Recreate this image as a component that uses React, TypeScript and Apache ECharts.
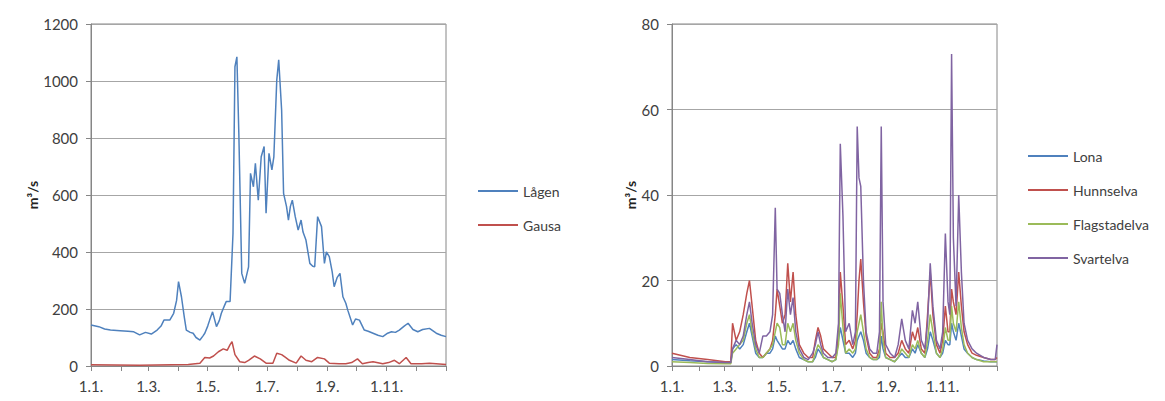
import React, { useEffect, useRef } from "react";
import * as echarts from "echarts";

// x = day of year (0 = 1 January)
const monthStarts = [0, 31, 59, 90, 120, 151, 181, 212, 243, 273, 304, 334, 365];
const labelDays = [0, 59, 120, 181, 243, 304];
const labelTexts = ["1.1.", "1.3.", "1.5.", "1.7.", "1.9.", "1.11."];

const lagenDays = [0, 8, 14, 20, 30, 38, 44, 50, 56, 62, 68, 72, 75, 81, 85, 88, 90, 93, 96, 98, 102, 105, 108, 112, 115, 117, 120, 122, 125, 129, 132, 134, 137, 139, 143, 146, 148, 150, 152, 155, 158, 162, 164, 167, 169, 172, 175, 178, 180, 183, 186, 188, 191, 193, 196, 198, 201, 203, 205, 207, 210, 213, 216, 218, 221, 225, 228, 230, 233, 237, 240, 242, 245, 248, 250, 253, 256, 259, 262, 264, 269, 272, 276, 281, 285, 290, 295, 300, 305, 309, 313, 317, 322, 326, 331, 336, 341, 348, 355, 360, 365];
const lagenValues = [144, 138, 130, 126, 124, 122, 120, 109, 118, 112, 126, 140, 161, 161, 185, 230, 296, 243, 170, 126, 118, 115, 100, 91, 105, 115, 140, 161, 190, 138, 160, 185, 210, 226, 226, 465, 1050, 1085, 816, 325, 290, 348, 676, 629, 711, 582, 734, 770, 536, 746, 688, 734, 1003, 1074, 898, 606, 560, 512, 560, 582, 524, 477, 512, 470, 442, 360, 350, 348, 524, 489, 360, 400, 384, 330, 278, 310, 325, 243, 220, 196, 144, 165, 161, 126, 122, 115, 108, 103, 115, 120, 118, 126, 140, 150, 128, 120, 128, 132, 115, 108, 103];

const gausaDays = [0, 50, 100, 112, 117, 122, 126, 131, 136, 140, 143, 145, 148, 153, 158, 162, 168, 174, 180, 187, 191, 196, 200, 204, 211, 216, 221, 227, 233, 240, 245, 255, 262, 268, 274, 279, 285, 290, 300, 306, 312, 317, 324, 329, 340, 348, 365];
const gausaValues = [4, 3, 5, 10, 30, 28, 35, 50, 60, 55, 75, 85, 40, 15, 12, 20, 35, 25, 10, 10, 45, 40, 30, 20, 10, 35, 20, 15, 30, 25, 10, 8, 8, 12, 25, 8, 12, 15, 8, 12, 20, 8, 30, 8, 8, 10, 5];

const rightDays = [0, 20, 40, 60, 66, 68, 72, 76, 80, 84, 87, 90, 94, 98, 102, 106, 110, 113, 116, 118, 121, 124, 127, 130, 133, 136, 139, 143, 148, 153, 158, 161, 164, 167, 170, 175, 180, 184, 187, 189, 192, 195, 199, 203, 206, 208, 210, 212, 215, 218, 222, 226, 230, 233, 235, 237, 240, 245, 250, 254, 258, 262, 266, 270, 273, 276, 280, 284, 287, 290, 293, 297, 301, 304, 307, 310, 312, 314, 316, 319, 322, 325, 328, 332, 337, 342, 350, 358, 363, 365];
const lonaValues = [1.5, 1.2, 1, 0.8, 0.8, 4, 5, 4, 5, 8, 10, 7, 3, 2, 2, 3, 3, 4, 7, 6, 5, 4, 4, 6, 5, 6, 4, 2, 1.5, 1, 1, 2, 4, 3, 2, 1.5, 1, 1.5, 6, 9, 6, 3, 3, 2, 3, 6, 7, 8, 6, 3, 2, 1.5, 1.5, 2, 7, 4, 2, 1.5, 1, 2, 3, 2, 2, 4, 3, 5, 3, 2, 4, 8, 6, 3, 2, 3, 6, 5, 5, 10, 8, 6, 10, 7, 4, 3, 2, 1.5, 1.2, 1, 1, 1];
const hunnselvaValues = [3, 2, 1.5, 1, 1, 10, 6, 8, 12, 17, 20, 14, 6, 3, 2, 3, 4, 6, 12, 18, 14, 10, 12, 24, 15, 22, 12, 5, 3, 2, 2, 6, 9, 7, 4, 3, 2, 2, 8, 22, 14, 5, 6, 4, 6, 12, 20, 25, 15, 7, 3, 2, 2, 4, 10, 8, 3, 2, 2, 3, 6, 4, 3, 8, 6, 9, 4, 3, 12, 22, 12, 5, 3, 6, 14, 8, 8, 18, 15, 12, 22, 14, 8, 5, 3, 2.5, 2, 1.5, 1.5, 2];
const flagstadelvaValues = [1, 0.8, 0.6, 0.5, 0.5, 3, 4, 5, 6, 10, 12, 8, 4, 2, 2, 3, 4, 5, 8, 10, 9, 5, 5, 10, 8, 10, 6, 3, 1.5, 1, 1, 3, 5, 4, 2, 1.5, 1, 1.5, 5, 17, 9, 3, 4, 3, 4, 8, 10, 12, 8, 4, 2, 1.5, 1.5, 3, 15, 6, 2, 1.5, 1, 2, 4, 3, 2, 5, 4, 6, 3, 2, 6, 12, 8, 3, 2, 4, 9, 6, 6, 14, 10, 8, 15, 9, 5, 3, 2, 1.5, 1, 1, 1, 1];
const svartelvaValues = [2, 1.5, 1, 0.8, 0.8, 4, 6, 5, 7, 12, 15, 10, 5, 3, 7, 7, 8, 12, 37, 18, 17, 12, 8, 18, 12, 16, 8, 4, 2, 1.5, 3, 5, 8, 5, 3, 2, 2, 3, 10, 52, 35, 8, 10, 5, 8, 56, 44, 42, 20, 8, 4, 3, 3, 8, 56, 15, 5, 3, 2, 5, 11, 6, 4, 13, 10, 15, 6, 4, 10, 24, 14, 6, 4, 8, 31, 15, 12, 73, 30, 14, 40, 22, 10, 6, 4, 3, 2, 1.5, 1.5, 5];

const zip = (xs: number[], ys: number[]) => xs.map((x, i) => [x, ys[i]]);

const FONT = "Lato";
const TXT = "#404040";

function xAxis(gridIndex: number) {
  return {
    type: "value",
    gridIndex,
    min: 0,
    max: 365,
    axisLine: { show: true, lineStyle: { color: "#868686", width: 1 } },
    axisTick: { show: true, customValues: monthStarts, length: 5, lineStyle: { color: "#868686" } },
    axisLabel: {
      show: true,
      customValues: labelDays,
      formatter: (v: number) => labelTexts[labelDays.indexOf(v)] ?? "",
      margin: 12,
      fontFamily: FONT,
      fontSize: 15,
      color: TXT,
    },
    splitLine: { show: false },
  };
}

function yAxis(gridIndex: number, max: number, interval: number, nameGap: number) {
  return {
    type: "value",
    gridIndex,
    min: 0,
    max,
    interval,
    name: "m³/s",
    nameLocation: "middle",
    nameGap,
    nameRotate: 90,
    nameTextStyle: { fontFamily: FONT, fontSize: 14, fontWeight: "bold", color: "#222" },
    axisLine: { show: true, lineStyle: { color: "#868686", width: 1 } },
    axisTick: { show: true, length: 5, lineStyle: { color: "#868686" } },
    axisLabel: { margin: 13, fontFamily: FONT, fontSize: 15, color: TXT, formatter: (v: number) => String(v) },
    splitLine: { show: true, lineStyle: { color: "#a6a6a6", width: 1 } },
  };
}

function lineSeries(name: string, data: number[][], color: string, idx: number) {
  return {
    name,
    type: "line",
    xAxisIndex: idx,
    yAxisIndex: idx,
    data,
    showSymbol: false,
    symbol: "none",
    lineStyle: { color, width: 1.5 },
    itemStyle: { color },
  };
}

export default function App() {
  const ref = useRef<HTMLDivElement>(null);
  useEffect(() => {
    if (!ref.current) return;
    const chart = echarts.init(ref.current, undefined, { renderer: "svg" });
    chart.setOption({
      animation: false,
      backgroundColor: "#ffffff",
      grid: [
        { left: 91, top: 24, width: 355, height: 342, show: true, borderColor: "#868686", borderWidth: 1 },
        { left: 672, top: 24, width: 325, height: 342, show: true, borderColor: "#868686", borderWidth: 1 },
      ],
      xAxis: [xAxis(0), xAxis(1)],
      yAxis: [yAxis(0, 1200, 200, 46), yAxis(1, 80, 20, 34)],
      legend: [
        {
          data: ["Lågen", "Gausa"],
          orient: "vertical",
          left: 473,
          top: 178,
          itemWidth: 40,
          itemHeight: 2,
          itemGap: 18,
          icon: "rect",
          textStyle: { fontFamily: FONT, fontSize: 14, color: TXT, lineHeight: 16 },
        },
        {
          data: ["Lona", "Hunnselva", "Flagstadelva", "Svartelva"],
          orient: "vertical",
          left: 1023,
          top: 143,
          itemWidth: 40,
          itemHeight: 2,
          itemGap: 18,
          icon: "rect",
          textStyle: { fontFamily: FONT, fontSize: 14, color: TXT, lineHeight: 16 },
        },
      ],
      series: [
        lineSeries("Lågen", zip(lagenDays, lagenValues), "#4F81BD", 0),
        lineSeries("Gausa", zip(gausaDays, gausaValues), "#C0504D", 0),
        lineSeries("Lona", zip(rightDays, lonaValues), "#4F81BD", 1),
        lineSeries("Hunnselva", zip(rightDays, hunnselvaValues), "#C0504D", 1),
        lineSeries("Flagstadelva", zip(rightDays, flagstadelvaValues), "#9BBB59", 1),
        lineSeries("Svartelva", zip(rightDays, svartelvaValues), "#8064A2", 1),
      ],
    });
    return () => chart.dispose();
  }, []);
  return (
    <div
      ref={ref}
      style={{ position: "fixed", left: 0, top: 0, width: 1165, height: 401, background: "#fff" }}
    />
  );
}
